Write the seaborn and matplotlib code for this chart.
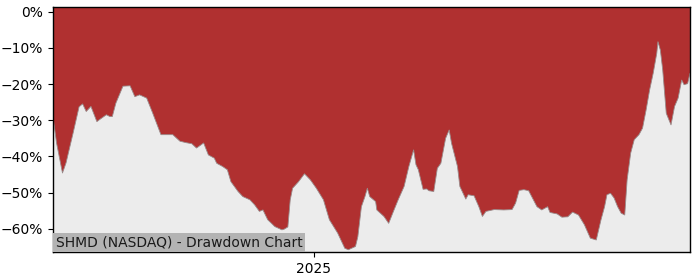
import matplotlib
matplotlib.use("Agg")
import matplotlib.pyplot as plt
import matplotlib.dates as mdates
import matplotlib.ticker as mticker
import pandas as pd
import seaborn as sns

dates = [
    "2024-05-26", "2024-05-29", "2024-05-31", "2024-06-03", "2024-06-06", "2024-06-12",
    "2024-06-17", "2024-06-20", "2024-06-23", "2024-06-27", "2024-07-02", "2024-07-04",
    "2024-07-10", "2024-07-13", "2024-07-15", "2024-07-18", "2024-07-24", "2024-07-30",
    "2024-08-03", "2024-08-07", "2024-08-13", "2024-08-18", "2024-08-25", "2024-09-04",
    "2024-09-10", "2024-09-15", "2024-09-20", "2024-09-24", "2024-09-30", "2024-10-04",
    "2024-10-09", "2024-10-11", "2024-10-16", "2024-10-20", "2024-10-23", "2024-10-29",
    "2024-11-02", "2024-11-08", "2024-11-12", "2024-11-16", "2024-11-19", "2024-11-23",
    "2024-11-29", "2024-12-05", "2024-12-07", "2024-12-10", "2024-12-12", "2024-12-14",
    "2024-12-19", "2024-12-24", "2024-12-29", "2025-01-03", "2025-01-09", "2025-01-14",
    "2025-01-21", "2025-01-27", "2025-01-30", "2025-02-05", "2025-02-07", "2025-02-10",
    "2025-02-13", "2025-02-15", "2025-02-17", "2025-02-22", "2025-02-23", "2025-03-01",
    "2025-03-05", "2025-03-09", "2025-03-13", "2025-03-18", "2025-03-22", "2025-03-26",
    "2025-03-28", "2025-03-30", "2025-04-03", "2025-04-06", "2025-04-08", "2025-04-12",
    "2025-04-15", "2025-04-18", "2025-04-22", "2025-04-25", "2025-04-27", "2025-05-02",
    "2025-05-04", "2025-05-09", "2025-05-11", "2025-05-16", "2025-05-20", "2025-05-23",
    "2025-05-26", "2025-06-02", "2025-06-10", "2025-06-17", "2025-06-20", "2025-06-23",
    "2025-06-27", "2025-07-01", "2025-07-05", "2025-07-08", "2025-07-12", "2025-07-17",
    "2025-07-19", "2025-07-25", "2025-07-29", "2025-08-03", "2025-08-07", "2025-08-12",
    "2025-08-17", "2025-08-22", "2025-08-27", "2025-08-31", "2025-09-03", "2025-09-05",
    "2025-09-08", "2025-09-11", "2025-09-14", "2025-09-17", "2025-09-20", "2025-09-22",
    "2025-09-25", "2025-09-28", "2025-10-02", "2025-10-05", "2025-10-08", "2025-10-11",
    "2025-10-14", "2025-10-17", "2025-10-18", "2025-10-20", "2025-10-22", "2025-10-25",
    "2025-10-29", "2025-11-01", "2025-11-04", "2025-11-07", "2025-11-09", "2025-11-12",
    "2025-11-14",
]

drawdown_pct = [
    -29.0, -36.3, -39.6, -44.6, -41.8, -33.5,
    -26.3, -25.5, -27.6, -26.2, -30.4, -29.9,
    -28.5, -29.0, -29.0, -25.3, -20.6, -20.5,
    -23.5, -23.0, -23.9, -28.0, -34.0, -34.0,
    -35.8, -36.2, -36.5, -37.7, -36.3, -39.6,
    -40.5, -41.9, -42.8, -43.7, -47.0, -49.7,
    -51.1, -52.0, -53.4, -55.2, -54.8, -57.5,
    -59.4, -60.3, -60.1, -59.5, -52.0, -48.8,
    -47.0, -44.8, -46.5, -48.8, -52.0, -57.5,
    -61.2, -65.4, -65.8, -64.9, -62.2, -53.9,
    -51.1, -48.8, -51.1, -52.5, -54.8, -56.6,
    -58.5, -55.2, -52.0, -48.3, -42.8, -38.2,
    -42.3, -43.7, -49.1, -49.0, -49.5, -49.7,
    -43.3, -41.9, -35.0, -32.7, -36.4, -42.8,
    -48.3, -51.8, -50.6, -50.9, -53.9, -56.6,
    -55.2, -54.7, -54.8, -54.7, -52.9, -49.4,
    -49.2, -49.5, -52.0, -53.9, -54.8, -53.9,
    -55.5, -55.9, -56.8, -56.7, -55.4, -56.2,
    -58.9, -62.6, -63.1, -57.5, -53.9, -50.6,
    -50.2, -51.5, -53.9, -55.7, -56.2, -46.5,
    -39.1, -35.4, -34.0, -32.2, -27.2, -21.6,
    -17.0, -11.5, -8.3, -10.6, -16.1, -28.1,
    -31.3, -26.2, -23.9, -18.9, -20.2, -19.9,
    -17.0,
]

ticker_label = "SHMD (NASDAQ) - Drawdown Chart"
year_tick_format = "%Y"

df = pd.DataFrame({"date": pd.to_datetime(dates), "dd": [v / 100.0 for v in drawdown_pct]})

sns.set_style("ticks")
plt.rcParams["font.family"] = ["DejaVu Sans"]

fig = plt.figure(figsize=(7.0, 2.8), dpi=100)
ax = fig.add_axes([0.0757, 0.099, 0.91, 0.875])
ax.set_facecolor("#ececec")

y_top = 0.012
y_bot = -0.665
ax.fill_between(df["date"], df["dd"], 1.0, color="#b03030", linewidth=0)
sns.lineplot(data=df, x="date", y="dd", ax=ax, color="#9a8a8a", linewidth=0.6)

ax.set_xlim(df["date"].iloc[0], df["date"].iloc[-1])
ax.set_ylim(y_bot, y_top)
ax.set_xlabel("")
ax.set_ylabel("")
ax.xaxis.set_major_locator(mdates.YearLocator())
ax.xaxis.set_major_formatter(mdates.DateFormatter(year_tick_format))
ax.yaxis.set_major_locator(mticker.MultipleLocator(0.1))
ax.yaxis.set_major_formatter(mticker.PercentFormatter(1.0, decimals=0))
ax.tick_params(labelsize=10, colors="black", direction="out", length=3.5, width=0.8)
for s in ax.spines.values():
    s.set_visible(True)
    s.set_color("black")
    s.set_linewidth(1.0)

ax.text(0.0045, 0.012, ticker_label, transform=ax.transAxes, fontsize=10,
        ha="left", va="bottom", color="#1a1a1a",
        bbox=dict(facecolor="#b3b3b3", edgecolor="none", pad=2.0))

fig.savefig("out.png", dpi=100)
